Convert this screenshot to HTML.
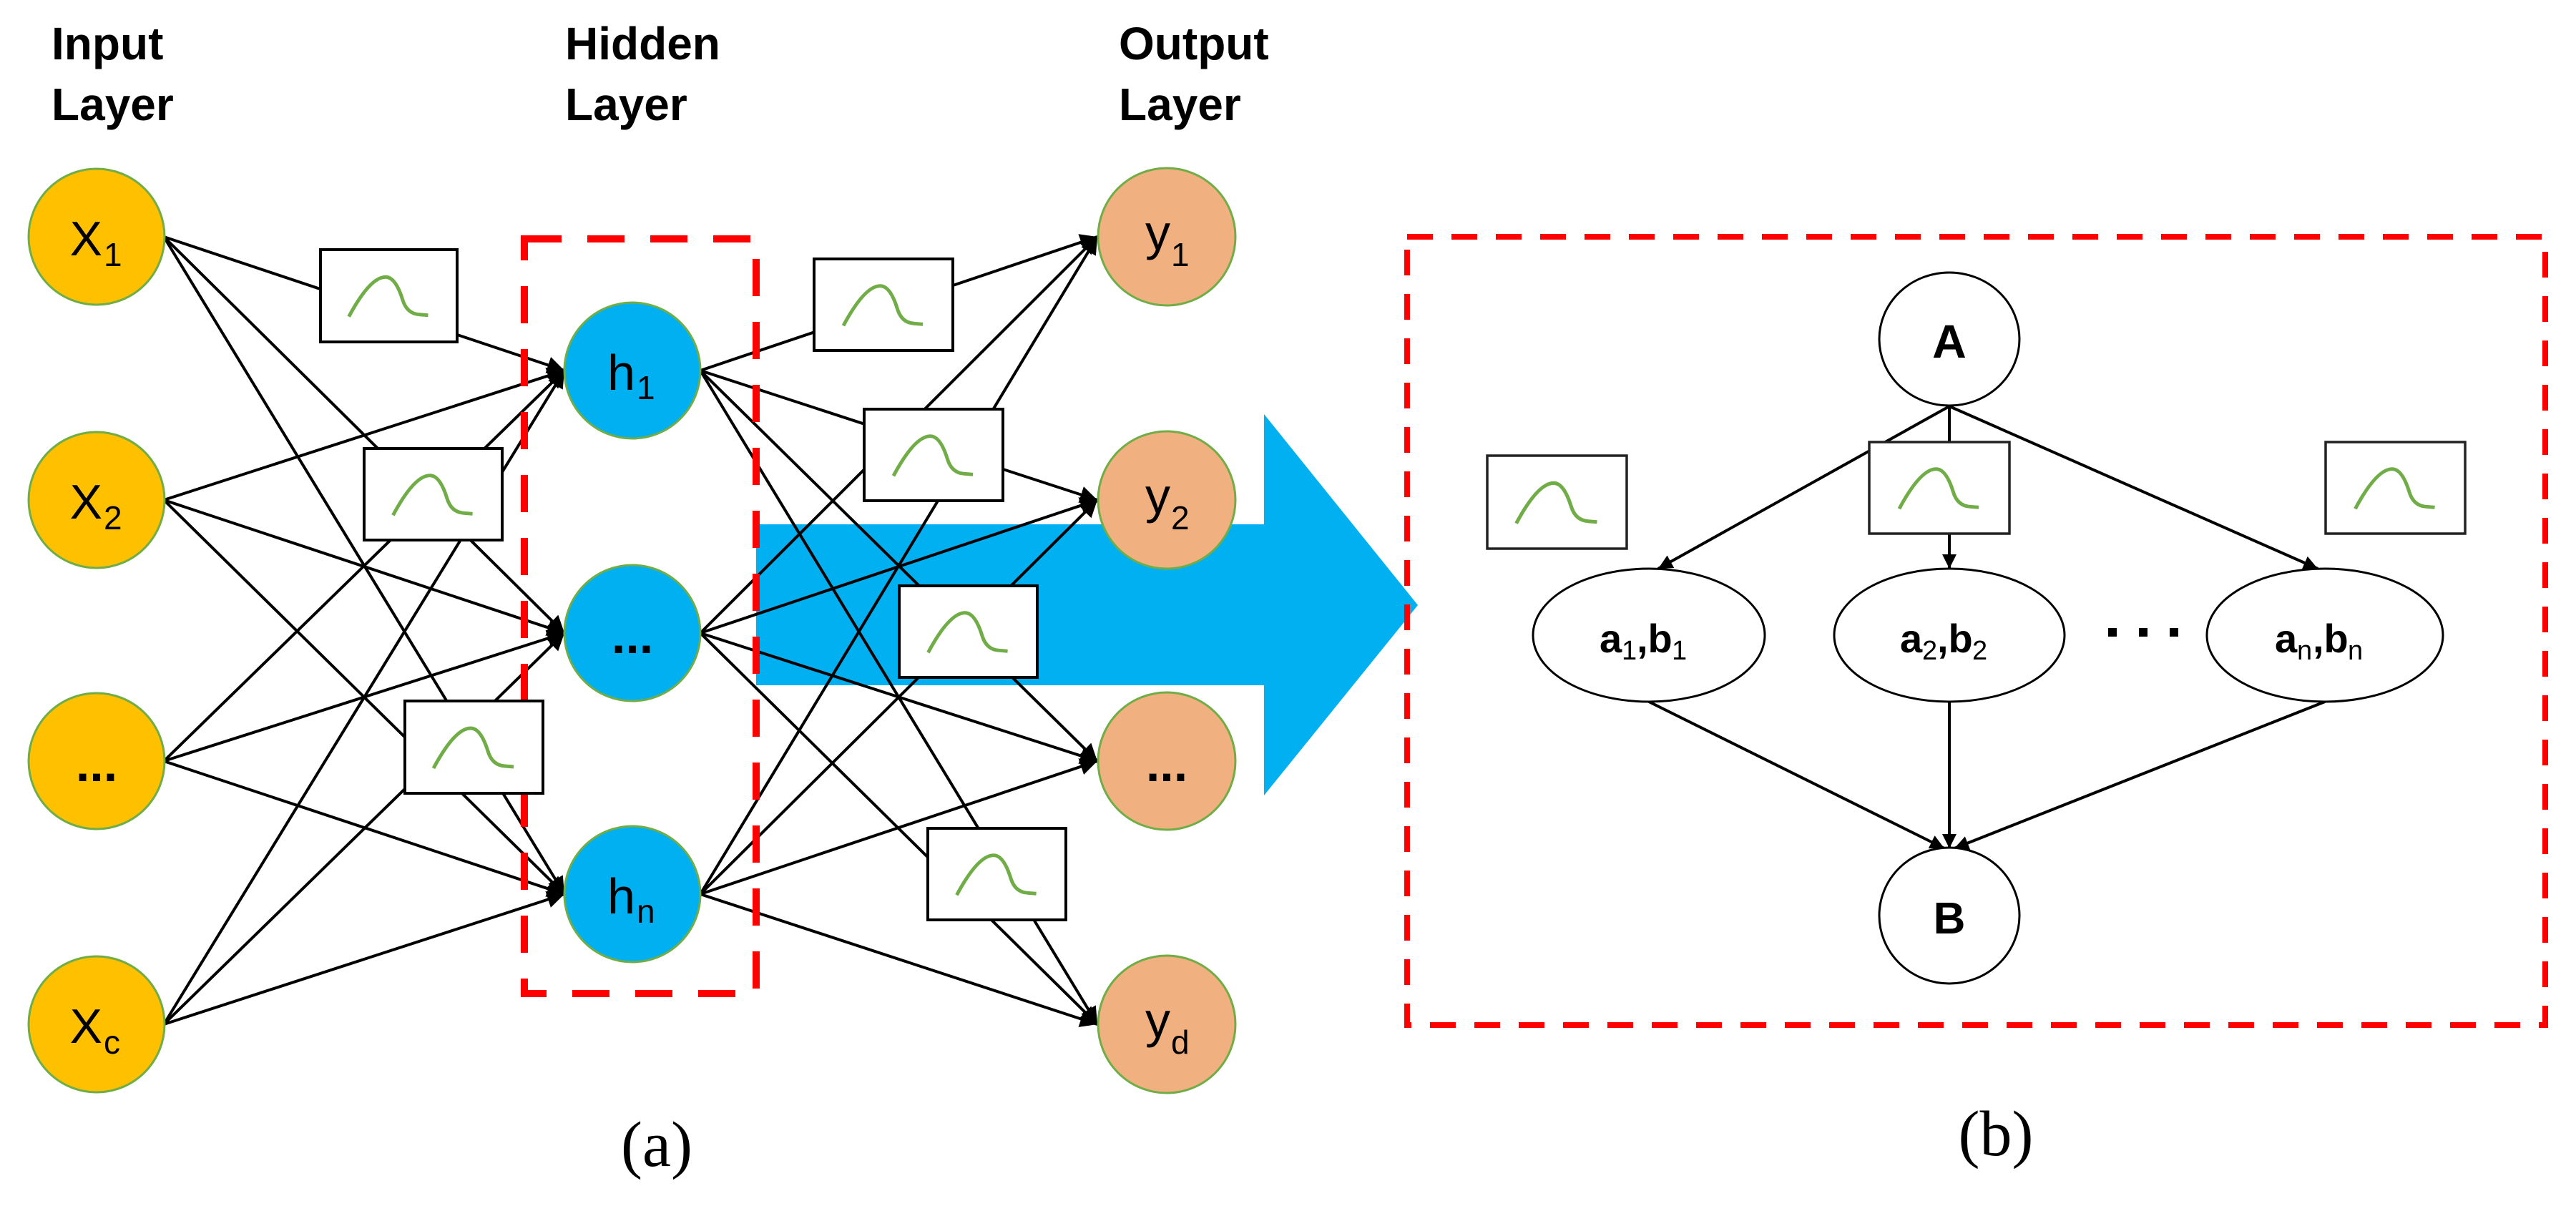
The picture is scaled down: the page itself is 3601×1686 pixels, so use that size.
<!DOCTYPE html>
<html><head><meta charset="utf-8"><style>
html,body{margin:0;padding:0;background:#fff;}
svg{display:block;}
text{font-family:"Liberation Sans","DejaVu Sans",sans-serif;}
</style></head><body>
<svg width="3601" height="1686" viewBox="0 0 3601 1686" xmlns="http://www.w3.org/2000/svg">
<defs>
<marker id="ar" viewBox="0 0 10 10" refX="10" refY="5" markerWidth="6" markerHeight="6" markerUnits="strokeWidth" orient="auto">
<path d="M0,0 L10,5 L0,10 z" fill="#000"/></marker>
<marker id="ar2" viewBox="0 0 10 10" refX="10" refY="5" markerWidth="5" markerHeight="5" markerUnits="strokeWidth" orient="auto">
<path d="M0,0 L10,5 L0,10 z" fill="#000"/></marker>
<symbol id="curve" viewBox="0 0 193 129">
<path d="M40,94 Q70,38 92,38 Q106,38 116,70 Q122,90 140,91 L152,92" fill="none" stroke="#70AD47" stroke-width="5"/>
</symbol>
</defs>

<polygon points="1057,733 1767,733 1767,579 1982,846 1767,1112 1767,958 1057,958" fill="#00B0F0"/>

<g font-size="64" fill="#000" font-weight="bold">
<text x="72" y="83">Input</text><text x="72" y="168">Layer</text>
<text x="790" y="83">Hidden</text><text x="790" y="168">Layer</text>
<text x="1564" y="83">Output</text><text x="1564" y="168">Layer</text>
</g>

<g stroke="#000" stroke-width="4" fill="none" marker-end="url(#ar)">
<line x1="229" y1="331" x2="789" y2="518"/><line x1="229" y1="331" x2="789" y2="885"/><line x1="229" y1="331" x2="789" y2="1250"/>
<line x1="229" y1="699" x2="789" y2="518"/><line x1="229" y1="699" x2="789" y2="885"/><line x1="229" y1="699" x2="789" y2="1250"/>
<line x1="229" y1="1064" x2="789" y2="518"/><line x1="229" y1="1064" x2="789" y2="885"/><line x1="229" y1="1064" x2="789" y2="1250"/>
<line x1="229" y1="1432" x2="789" y2="518"/><line x1="229" y1="1432" x2="789" y2="885"/><line x1="229" y1="1432" x2="789" y2="1250"/>
<line x1="979" y1="518" x2="1534" y2="331"/><line x1="979" y1="518" x2="1534" y2="699"/><line x1="979" y1="518" x2="1534" y2="1064"/><line x1="979" y1="518" x2="1534" y2="1432"/>
<line x1="979" y1="885" x2="1534" y2="331"/><line x1="979" y1="885" x2="1534" y2="699"/><line x1="979" y1="885" x2="1534" y2="1064"/><line x1="979" y1="885" x2="1534" y2="1432"/>
<line x1="979" y1="1250" x2="1534" y2="331"/><line x1="979" y1="1250" x2="1534" y2="699"/><line x1="979" y1="1250" x2="1534" y2="1064"/><line x1="979" y1="1250" x2="1534" y2="1432"/>
</g>

<rect x="733" y="334" width="324" height="1055" fill="none" stroke="#FF0000" stroke-width="10" stroke-dasharray="52 36"/>

<g fill="#fff" stroke="#000" stroke-width="4">
<rect x="448" y="349" width="191" height="129"/>
<rect x="509" y="627" width="193" height="128"/>
<rect x="566" y="980" width="193" height="129"/>
<rect x="1138" y="362" width="194" height="128"/>
<rect x="1208" y="572" width="194" height="128"/>
<rect x="1257" y="819" width="193" height="128"/>
<rect x="1297" y="1158" width="193" height="128"/>
</g>
<use href="#curve" x="448" y="349" width="191" height="129"/>
<use href="#curve" x="509" y="627" width="193" height="128"/>
<use href="#curve" x="566" y="980" width="193" height="129"/>
<use href="#curve" x="1138" y="362" width="194" height="128"/>
<use href="#curve" x="1208" y="572" width="194" height="128"/>
<use href="#curve" x="1257" y="819" width="193" height="128"/>
<use href="#curve" x="1297" y="1158" width="193" height="128"/>

<g stroke="#70AD47" stroke-width="3">
<circle cx="135" cy="331" r="95" fill="#FFC000"/>
<circle cx="135" cy="699" r="95" fill="#FFC000"/>
<circle cx="135" cy="1064" r="95" fill="#FFC000"/>
<circle cx="135" cy="1432" r="95" fill="#FFC000"/>
<circle cx="884" cy="518" r="95" fill="#00B0F0"/>
<circle cx="884" cy="885" r="95" fill="#00B0F0"/>
<circle cx="884" cy="1250" r="95" fill="#00B0F0"/>
<circle cx="1631" cy="331" r="96" fill="#F0B080"/>
<circle cx="1631" cy="699" r="96" fill="#F0B080"/>
<circle cx="1631" cy="1064" r="96" fill="#F0B080"/>
<circle cx="1631" cy="1432" r="96" fill="#F0B080"/>
</g>
<g fill="#000">
<text x="143" y="357" font-size="68" text-anchor="end">X</text><text x="145" y="372" font-size="46">1</text>
<text x="143" y="725" font-size="68" text-anchor="end">X</text><text x="145" y="740" font-size="46">2</text>
<text x="135" y="1092" font-size="70" font-weight="bold" text-anchor="middle">...</text>
<text x="143" y="1458" font-size="68" text-anchor="end">X</text><text x="145" y="1473" font-size="46">c</text>
<text x="888" y="545" font-size="70" text-anchor="end">h</text><text x="890" y="558" font-size="46">1</text>
<text x="884" y="913" font-size="70" font-weight="bold" text-anchor="middle">...</text>
<text x="888" y="1277" font-size="70" text-anchor="end">h</text><text x="890" y="1290" font-size="46">n</text>
<text x="1636" y="349" font-size="70" text-anchor="end">y</text><text x="1637" y="372" font-size="46">1</text>
<text x="1636" y="717" font-size="70" text-anchor="end">y</text><text x="1637" y="740" font-size="46">2</text>
<text x="1631" y="1092" font-size="70" font-weight="bold" text-anchor="middle">...</text>
<text x="1636" y="1450" font-size="70" text-anchor="end">y</text><text x="1637" y="1473" font-size="46">d</text>
</g>

<text x="918" y="1630" font-size="90" text-anchor="middle" style="font-family:'Liberation Serif',serif">(a)</text>

<rect x="1967" y="331" width="1591" height="1102" fill="none" stroke="#FF0000" stroke-width="8" stroke-dasharray="36 26"/>

<g stroke="#000" stroke-width="4" fill="none" marker-end="url(#ar2)">
<line x1="2725" y1="568" x2="2318" y2="795"/>
<line x1="2725" y1="568" x2="2725" y2="795"/>
<line x1="2725" y1="568" x2="3240" y2="795"/>
<line x1="2305" y1="981" x2="2718" y2="1186"/>
<line x1="2725" y1="981" x2="2725" y2="1186"/>
<line x1="3250" y1="981" x2="2732" y2="1186"/>
</g>

<g fill="#fff" stroke="#222" stroke-width="3.5">
<rect x="2079" y="637" width="195" height="130"/>
<rect x="2613" y="618" width="196" height="128"/>
<rect x="3251" y="618" width="195" height="128"/>
</g>
<use href="#curve" x="2079" y="637" width="195" height="130"/>
<use href="#curve" x="2613" y="618" width="196" height="128"/>
<use href="#curve" x="3251" y="618" width="195" height="128"/>

<g fill="#fff" stroke="#000" stroke-width="3">
<ellipse cx="2725" cy="474" rx="98" ry="93"/>
<ellipse cx="2305" cy="888" rx="162" ry="93"/>
<ellipse cx="2725" cy="888" rx="161" ry="93"/>
<ellipse cx="3250" cy="888" rx="165" ry="93"/>
<ellipse cx="2725" cy="1280" rx="98" ry="95"/>
</g>
<g fill="#000" font-weight="bold">
<text x="2725" y="500" font-size="66" text-anchor="middle">A</text>
<text x="2725" y="1305" font-size="62" text-anchor="middle">B</text>
<text x="2236" y="912" font-size="56">a</text><text x="2267" y="922" font-size="38" font-weight="normal">1</text><text x="2288" y="912" font-size="56">,b</text><text x="2337" y="922" font-size="38" font-weight="normal">1</text>
<text x="2656" y="912" font-size="56">a</text><text x="2687" y="922" font-size="38" font-weight="normal">2</text><text x="2708" y="912" font-size="56">,b</text><text x="2757" y="922" font-size="38" font-weight="normal">2</text>
<text x="3180" y="912" font-size="56">a</text><text x="3211" y="922" font-size="38" font-weight="normal">n</text><text x="3233" y="912" font-size="56">,b</text><text x="3282" y="922" font-size="38" font-weight="normal">n</text>
</g>
<g fill="#000">
<rect x="2947" y="878" width="12" height="12"/>
<rect x="2990" y="878" width="12" height="12"/>
<rect x="3033" y="878" width="12" height="12"/>
</g>
<text x="2790" y="1615" font-size="90" text-anchor="middle" style="font-family:'Liberation Serif',serif">(b)</text>
</svg>
</body></html>
